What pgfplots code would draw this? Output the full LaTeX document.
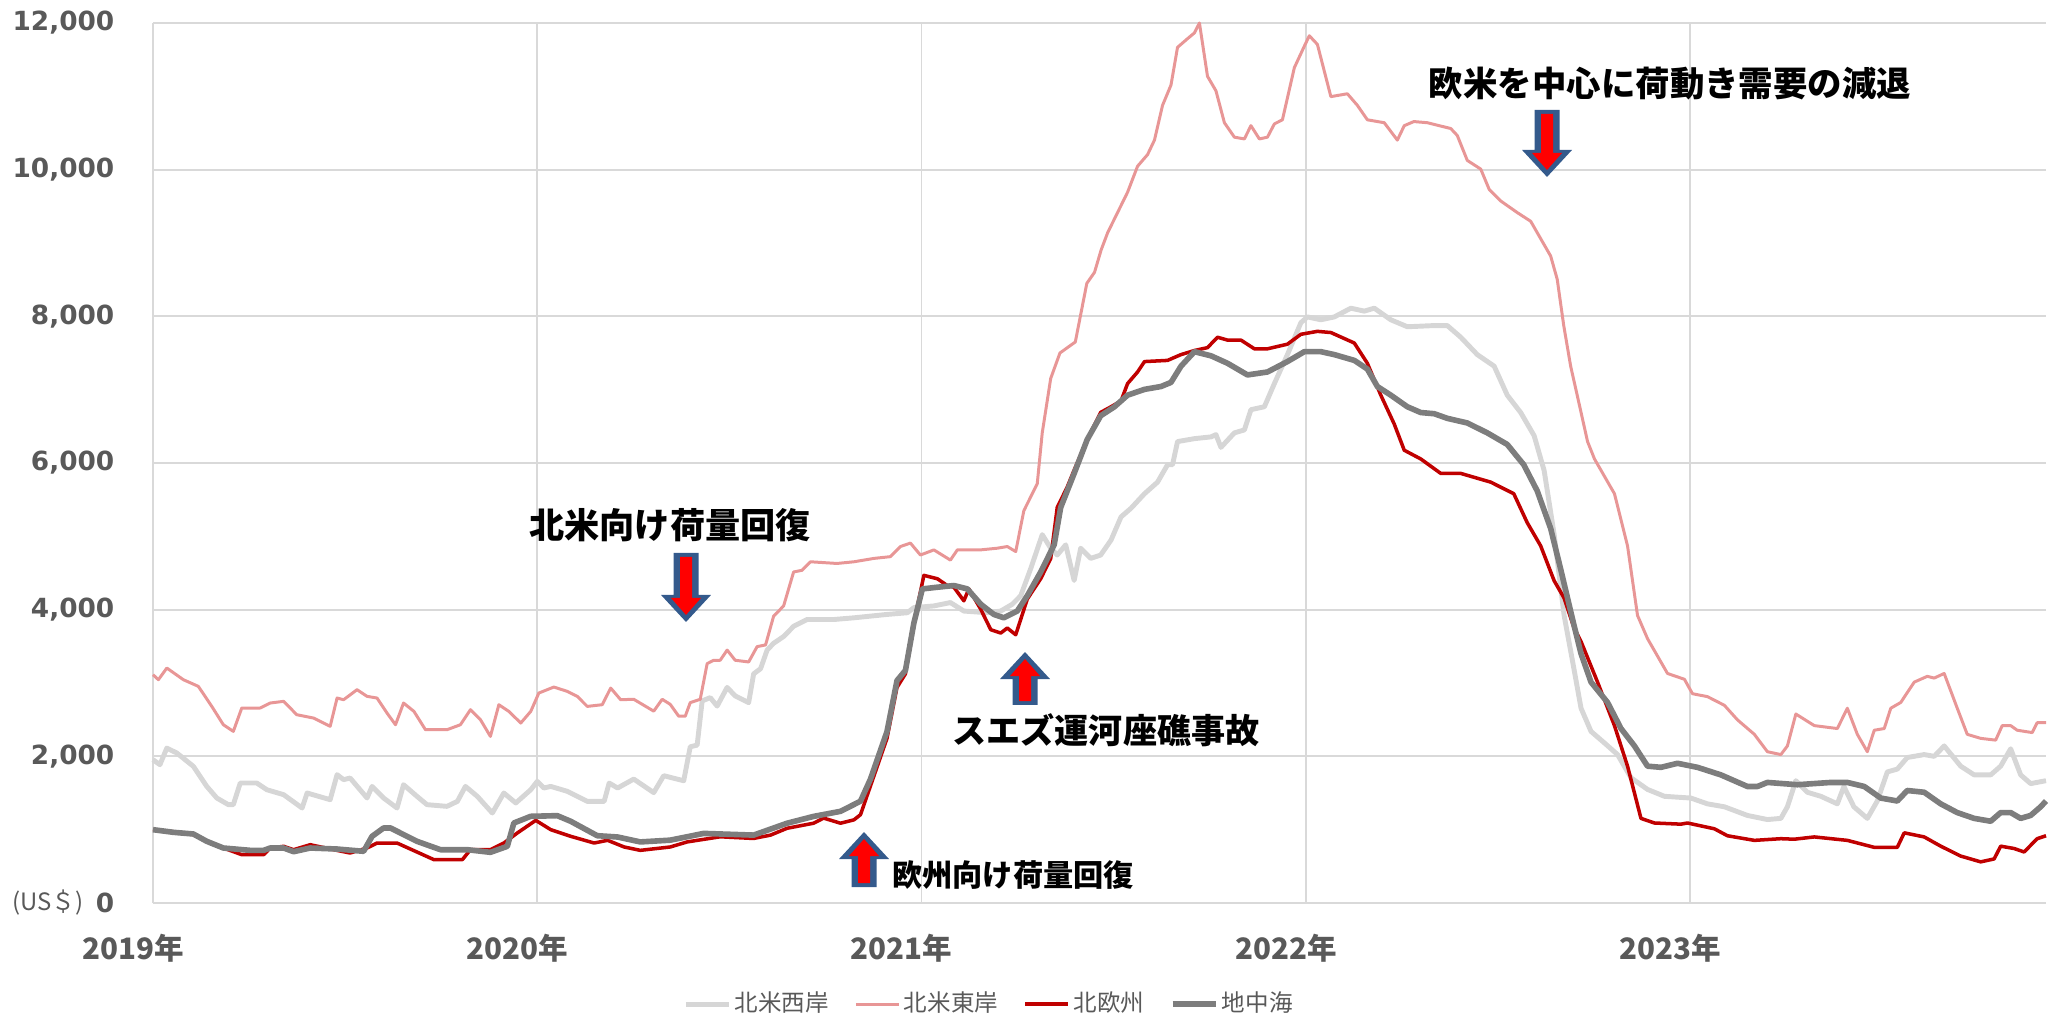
\documentclass[border=0pt]{standalone}
\usepackage{fontspec}
\usepackage{pgfplots}
\pgfplotsset{compat=1.18}
\newfontfamily\tickfont{DejaVu Sans}
\newfontfamily\jp{Noto Sans CJK JP}
\definecolor{gridgray}{RGB}{217,217,217}
\definecolor{tickgray}{RGB}{89,89,89}
\definecolor{naw}{RGB}{214,214,214}
\definecolor{nae}{RGB}{232,150,150}
\definecolor{neu}{RGB}{192,0,0}
\definecolor{med}{RGB}{125,125,125}
\definecolor{arrblue}{RGB}{52,90,140}
\definecolor{arrred}{RGB}{255,0,0}
% #1 x (cm), #2 base y (cm), #3 length (px), #4 direction (1 up, -1 down)
\newcommand{\blockarrow}[4]{%
  \begin{scope}[shift={(#1,#2)},x=0.01cm,y=0.01cm,yscale=#4]
    \fill[arrblue] (-12.5,0) -- (12.5,0) -- (12.5,{#3-27}) -- (25,{#3-27}) -- (0,#3) -- (-25,{#3-27}) -- (-12.5,{#3-27}) -- cycle;
    \fill[arrred] (-6,4) -- (6,4) -- (6,{#3-24}) -- (15,{#3-24}) -- (0,{#3-7}) -- (-15,{#3-24}) -- (-6,{#3-24}) -- cycle;
  \end{scope}}
\begin{document}
\begin{tikzpicture}
\path[use as bounding box] (0,0) rectangle (20.53,10.16);
\begin{axis}[
  at={(1.53cm,1.13cm)}, anchor=south west,
  scale only axis, width=18.93cm, height=8.80cm,
  xmin=2019, xmax=2023.926, ymin=0, ymax=12000,
  axis x line*=bottom, axis y line*=left,
  axis line style={draw=gridgray, line width=0.6pt},
  grid=major, grid style={draw=gridgray, line width=0.5pt},
  major tick length=0pt,
  xtick={2019,2020,2021,2022,2023},
  xticklabels={2019年,2020年,2021年,2022年,2023年},
  ytick={0,2000,4000,6000,8000,10000,12000},
  yticklabels={0,{2,000},{4,000},{6,000},{8,000},{10,000},{12,000}},
  yticklabel style={font={\tickfont\bfseries\fontsize{7.5pt}{9pt}\selectfont}, text=tickgray, anchor=east, inner sep=0pt, xshift=-0.38cm},
  xticklabel style={font={\jp\bfseries\fontsize{8.4pt}{10pt}\selectfont}, text=tickgray, anchor=center, inner sep=0pt, yshift=-0.45cm, xshift=-0.2cm},
  clip=false,
  legend columns=4,
  legend style={at={(0.442,-0.115)}, anchor=center, draw=none, fill=none, inner sep=0pt,
    font={\jp\fontsize{6.7pt}{8pt}\selectfont}, text=tickgray,
    nodes={inner sep=1pt, anchor=west},
    /tikz/every even column/.append style={column sep=0.22cm}},
  legend image code/.code={\draw[#1] (0cm,0cm) -- (0.43cm,0cm);},
  every axis plot/.append style={line join=round},
]
\addplot[naw, line width=1.4pt] coordinates {
(2019.000,1954)(2019.018,1886)(2019.036,2113)(2019.062,2045)(2019.105,1864)(2019.140,1590)(2019.166,1432)(2019.196,1341)(2019.209,1341)(2019.227,1636)(2019.270,1636)(2019.296,1545)(2019.340,1477)(2019.388,1295)(2019.401,1500)(2019.461,1409)(2019.479,1750)(2019.496,1682)(2019.513,1704)(2019.557,1432)(2019.570,1590)(2019.600,1432)(2019.635,1295)(2019.652,1613)(2019.687,1454)(2019.713,1341)(2019.765,1318)(2019.792,1386)(2019.813,1590)(2019.844,1454)(2019.883,1227)(2019.913,1500)(2019.944,1364)(2019.983,1545)(2020.000,1659)(2020.017,1568)(2020.035,1590)(2020.078,1523)(2020.130,1386)(2020.156,1386)(2020.174,1386)(2020.187,1636)(2020.209,1568)(2020.251,1690)
(2020.303,1505)(2020.329,1736)(2020.381,1667)(2020.398,2130)(2020.416,2153)(2020.429,2755)(2020.450,2801)(2020.468,2685)(2020.494,2940)(2020.515,2824)(2020.550,2732)(2020.563,3125)(2020.581,3195)(2020.598,3449)(2020.615,3542)(2020.641,3634)(2020.667,3773)(2020.702,3866)(2020.772,3866)(2020.824,3889)(2020.910,3935)(2020.963,3958)(2020.980,4028)(2021.032,4051)(2021.075,4097)(2021.110,3981)(2021.171,3958)(2021.206,3981)(2021.236,4074)(2021.258,4190)(2021.284,4560)(2021.314,5023)(2021.336,4838)(2021.353,4745)(2021.375,4884)(2021.397,4398)(2021.414,4838)(2021.440,4699)(2021.466,4745)
(2021.493,4949)(2021.519,5265)(2021.545,5383)(2021.580,5581)(2021.614,5739)(2021.640,5976)(2021.653,5976)(2021.666,6292)(2021.710,6332)(2021.753,6356)(2021.766,6387)(2021.779,6213)(2021.814,6411)(2021.840,6451)(2021.857,6727)(2021.892,6767)(2021.918,7083)(2021.952,7478)(2021.987,7913)(2022.004,7992)(2022.039,7953)(2022.074,7992)(2022.117,8111)(2022.152,8071)(2022.178,8111)(2022.221,7953)(2022.264,7858)(2022.334,7874)(2022.368,7874)(2022.403,7715)(2022.446,7478)(2022.490,7320)(2022.524,6925)(2022.559,6688)(2022.594,6372)(2022.620,5897)(2022.646,5028)(2022.672,3921)(2022.697,3209)
(2022.716,2656)(2022.742,2340)(2022.777,2182)(2022.811,2024)(2022.846,1708)(2022.889,1549)(2022.933,1455)(2023.002,1431)(2023.045,1352)(2023.089,1312)(2023.149,1194)(2023.201,1138)(2023.236,1154)(2023.253,1312)(2023.275,1668)(2023.305,1510)(2023.340,1455)(2023.383,1352)(2023.400,1589)(2023.426,1312)(2023.461,1154)(2023.487,1391)(2023.513,1787)(2023.539,1826)(2023.565,1984)(2023.609,2024)(2023.635,2000)(2023.661,2142)(2023.704,1866)(2023.739,1747)(2023.782,1747)(2023.808,1866)(2023.834,2103)(2023.860,1747)(2023.886,1628)(2023.926,1668)
};
\addlegendentry{北米西岸}
\addplot[nae, line width=0.85pt] coordinates {
(2019.000,3113)(2019.014,3045)(2019.036,3204)(2019.079,3045)(2019.118,2954)(2019.153,2681)(2019.183,2431)(2019.209,2340)(2019.231,2659)(2019.279,2659)(2019.305,2727)(2019.340,2750)(2019.374,2568)(2019.418,2522)(2019.461,2409)(2019.479,2795)(2019.496,2772)(2019.531,2909)(2019.557,2818)(2019.583,2795)(2019.609,2590)(2019.631,2431)(2019.652,2727)(2019.679,2613)(2019.709,2363)(2019.765,2363)(2019.800,2431)(2019.826,2636)(2019.852,2500)(2019.878,2272)(2019.900,2704)(2019.926,2613)(2019.957,2454)(2019.983,2613)(2020.004,2863)(2020.043,2945)(2020.078,2886)(2020.104,2818)(2020.130,2681)(2020.169,2704)(2020.191,2931)(2020.217,2772)
(2020.251,2778)(2020.303,2616)(2020.325,2778)(2020.346,2709)(2020.368,2547)(2020.385,2547)(2020.398,2732)(2020.424,2778)(2020.442,3264)(2020.459,3310)(2020.476,3310)(2020.494,3449)(2020.515,3310)(2020.550,3287)(2020.572,3496)(2020.594,3519)(2020.615,3912)(2020.641,4051)(2020.667,4514)(2020.689,4537)(2020.711,4653)(2020.780,4630)(2020.824,4653)(2020.876,4699)(2020.919,4723)(2020.945,4861)(2020.971,4908)(2020.997,4745)(2021.032,4815)(2021.075,4676)(2021.093,4815)(2021.153,4815)(2021.197,4838)(2021.223,4861)(2021.245,4792)(2021.266,5348)(2021.301,5718)(2021.314,6412)(2021.336,7153)(2021.360,7500)(2021.400,7650)(2021.430,8450)(2021.450,8600)
(2021.467,8901)(2021.484,9138)(2021.510,9415)(2021.536,9692)(2021.562,10047)(2021.588,10205)(2021.606,10403)(2021.627,10877)(2021.649,11154)(2021.666,11668)(2021.692,11786)(2021.710,11865)(2021.723,12000)(2021.744,11273)(2021.766,11075)(2021.788,10640)(2021.814,10443)(2021.840,10419)(2021.857,10600)(2021.879,10419)(2021.900,10443)(2021.918,10624)(2021.939,10680)(2021.970,11391)(2021.996,11684)(2022.009,11826)(2022.030,11708)(2022.065,10996)(2022.108,11035)(2022.134,10877)(2022.160,10680)(2022.204,10640)(2022.238,10403)(2022.256,10600)(2022.281,10656)(2022.316,10640)(2022.377,10561)(2022.394,10466)(2022.420,10126)(2022.455,10008)(2022.477,9731)(2022.507,9573)(2022.550,9415)(2022.585,9296)(2022.611,9059)(2022.637,8822)(2022.654,8506)(2022.671,7874)(2022.689,7320)(2022.706,6925)
(2022.733,6292)(2022.751,6055)(2022.803,5581)(2022.837,4870)(2022.863,3921)(2022.889,3605)(2022.941,3130)(2022.985,3051)(2023.006,2854)(2023.045,2814)(2023.089,2696)(2023.123,2498)(2023.167,2300)(2023.201,2063)(2023.236,2024)(2023.253,2142)(2023.275,2577)(2023.323,2419)(2023.383,2379)(2023.409,2656)(2023.435,2300)(2023.461,2063)(2023.479,2356)(2023.505,2379)(2023.522,2656)(2023.548,2735)(2023.583,3012)(2023.617,3091)(2023.635,3067)(2023.661,3130)(2023.695,2656)(2023.721,2300)(2023.756,2245)(2023.795,2221)(2023.812,2419)(2023.834,2419)(2023.851,2356)(2023.890,2324)(2023.903,2459)(2023.926,2459)
};
\addlegendentry{北米東岸}
\addplot[neu, line width=1.0pt] coordinates {
(2019.000,1000)(2019.044,977)(2019.105,932)(2019.140,841)(2019.183,750)(2019.231,659)(2019.288,659)(2019.305,750)(2019.340,773)(2019.366,727)(2019.409,795)(2019.470,727)(2019.513,682)(2019.557,750)(2019.583,818)(2019.635,818)(2019.731,591)(2019.805,591)(2019.826,727)(2019.878,727)(2019.913,818)(2019.948,955)(2019.996,1127)(2020.035,1000)(2020.087,909)(2020.148,818)(2020.183,855)(2020.226,764)
(2020.268,718)(2020.346,764)(2020.390,833)(2020.476,903)(2020.563,880)(2020.607,926)(2020.650,1019)(2020.719,1088)(2020.745,1158)(2020.789,1088)(2020.824,1134)(2020.841,1204)(2020.867,1597)(2020.910,2246)(2020.936,2940)(2020.958,3125)(2020.980,3820)(2021.006,4468)(2021.041,4422)(2021.067,4329)(2021.084,4306)(2021.110,4121)(2021.123,4283)(2021.154,4005)(2021.180,3727)(2021.206,3681)(2021.223,3750)(2021.245,3658)(2021.275,4144)(2021.310,4422)(2021.336,4699)(2021.353,5394)(2021.379,5672)(2021.397,5903)(2021.431,6320)(2021.466,6690)
(2021.493,6767)(2021.519,6846)(2021.536,7083)(2021.562,7241)(2021.580,7383)(2021.640,7399)(2021.675,7478)(2021.710,7534)(2021.744,7573)(2021.770,7715)(2021.796,7676)(2021.831,7676)(2021.866,7557)(2021.900,7557)(2021.952,7620)(2021.987,7755)(2022.030,7795)(2022.065,7779)(2022.126,7636)(2022.160,7360)(2022.195,6925)(2022.230,6530)(2022.256,6174)(2022.299,6055)(2022.351,5858)(2022.403,5858)(2022.481,5739)(2022.541,5581)(2022.576,5186)(2022.611,4870)(2022.646,4395)(2022.672,4158)(2022.697,3763)
(2022.716,3565)(2022.759,3012)(2022.803,2419)(2022.837,1866)(2022.872,1154)(2022.907,1091)(2022.976,1075)(2022.993,1091)(2023.063,1012)(2023.097,917)(2023.167,854)(2023.236,877)(2023.271,870)(2023.323,901)(2023.409,854)(2023.479,759)(2023.539,759)(2023.557,957)(2023.609,901)(2023.652,775)(2023.704,640)(2023.756,561)(2023.791,601)(2023.808,775)(2023.843,743)(2023.869,696)(2023.903,877)(2023.926,917)
};
\addlegendentry{北欧州}
\addplot[med, line width=1.6pt] coordinates {
(2019.000,1000)(2019.053,964)(2019.105,941)(2019.140,841)(2019.183,750)(2019.253,718)(2019.288,718)(2019.305,750)(2019.340,750)(2019.366,700)(2019.409,750)(2019.479,736)(2019.548,705)(2019.570,909)(2019.600,1023)(2019.618,1023)(2019.687,841)(2019.748,727)(2019.818,727)(2019.878,691)(2019.922,773)(2019.939,1091)(2019.983,1182)(2020.052,1191)(2020.087,1114)(2020.156,918)(2020.209,900)
(2020.268,833)(2020.346,857)(2020.433,949)(2020.563,926)(2020.650,1088)(2020.719,1181)(2020.789,1250)(2020.824,1343)(2020.841,1389)(2020.867,1690)(2020.910,2338)(2020.936,3033)(2020.958,3172)(2020.980,3820)(2021.002,4283)(2021.041,4306)(2021.084,4329)(2021.119,4283)(2021.154,4074)(2021.188,3935)(2021.214,3889)(2021.249,3981)(2021.275,4190)(2021.310,4514)(2021.345,4884)(2021.362,5394)(2021.397,5857)(2021.431,6320)(2021.466,6644)
(2021.502,6767)(2021.536,6925)(2021.580,7004)(2021.623,7043)(2021.649,7099)(2021.675,7320)(2021.710,7518)(2021.753,7462)(2021.796,7360)(2021.848,7201)(2021.900,7241)(2021.952,7383)(2021.996,7518)(2022.039,7518)(2022.074,7478)(2022.126,7399)(2022.160,7281)(2022.186,7043)(2022.221,6925)(2022.264,6767)(2022.299,6688)(2022.334,6672)(2022.368,6609)(2022.420,6546)(2022.472,6411)(2022.524,6253)(2022.567,5976)(2022.602,5620)(2022.637,5107)(2022.663,4553)(2022.697,3802)
(2022.716,3400)(2022.742,3012)(2022.785,2735)(2022.820,2379)(2022.855,2142)(2022.889,1866)(2022.924,1850)(2022.967,1905)(2023.019,1850)(2023.080,1747)(2023.149,1589)(2023.175,1589)(2023.201,1644)(2023.279,1613)(2023.366,1644)(2023.409,1644)(2023.453,1589)(2023.496,1431)(2023.539,1391)(2023.565,1534)(2023.609,1510)(2023.652,1352)(2023.695,1233)(2023.739,1154)(2023.782,1115)(2023.808,1233)(2023.834,1233)(2023.860,1154)(2023.886,1194)(2023.912,1312)(2023.926,1391)
};
\addlegendentry{地中海}
\end{axis}
% annotations (picture coordinates, 1 px = 0.01 cm)
\node[font={\jp\fontsize{6.8pt}{8pt}\selectfont}, text=tickgray, inner sep=0pt] at (0.48,1.13) {(US＄)};
\node[font={\jp\bfseries\fontsize{10pt}{12pt}\selectfont}, inner sep=0pt] at (6.70,4.91) {北米向け荷量回復};
\node[font={\jp\bfseries\fontsize{9.7pt}{12pt}\selectfont}, inner sep=0pt] at (11.06,2.86) {スエズ運河座礁事故};
\node[font={\jp\bfseries\fontsize{8.6pt}{10pt}\selectfont}, inner sep=0pt] at (10.13,1.41) {欧州向け荷量回復};
\node[font={\jp\bfseries\fontsize{9.8pt}{12pt}\selectfont}, inner sep=0pt] at (16.70,9.32) {欧米を中心に荷動き需要の減退};
\blockarrow{6.86}{4.63}{69}{-1}
\blockarrow{15.47}{9.06}{67}{-1}
\blockarrow{10.25}{3.11}{53}{1}
\blockarrow{8.64}{1.29}{55}{1}
\end{tikzpicture}
\end{document}
